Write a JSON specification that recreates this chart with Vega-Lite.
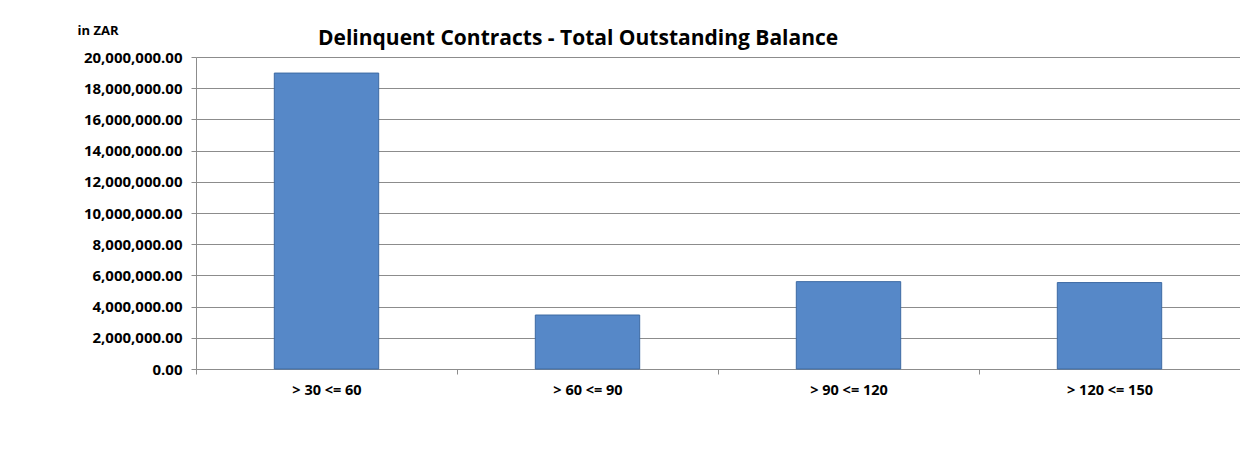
{
  "$schema": "https://vega.github.io/schema/vega-lite/v6.json",
  "autosize": "none",
  "width": 1044,
  "height": 312,
  "padding": {"left": 196, "top": 57, "right": 0, "bottom": 87},
  "background": "white",
  "title": {
    "text": "Delinquent Contracts - Total Outstanding Balance",
    "anchor": "start",
    "frame": "group",
    "dx": 122,
    "dy": 33,
    "offset": 8,
    "font": "Open Sans",
    "fontSize": 21,
    "fontWeight": "bold",
    "color": "#000000"
  },
  "data": {
    "values": [
      {"bucket": "> 30 <= 60", "balance": 18970000},
      {"bucket": "> 60 <= 90", "balance": 3460000},
      {"bucket": "> 90 <= 120", "balance": 5600000},
      {"bucket": "> 120 <= 150", "balance": 5540000}
    ]
  },
  "mark": {"type": "bar", "width": {"band": 0.4}, "color": "#5688c8", "stroke": "#3d6aa3", "strokeWidth": 1},
  "encoding": {
    "x": {
      "field": "bucket",
      "type": "nominal",
      "sort": null,
      "scale": {"paddingInner": 0, "paddingOuter": 0},
      "axis": {
        "title": null,
        "labelAngle": 0,
        "tickBand": "extent",
        "ticks": true,
        "tickSize": 5,
        "tickColor": "#8c8c8c",
        "domainColor": "#8c8c8c",
        "labelFont": "Open Sans",
        "labelFontSize": 14.5,
        "labelFontWeight": "bold",
        "labelColor": "#000000",
        "labelPadding": 9
      }
    },
    "y": {
      "field": "balance",
      "type": "quantitative",
      "scale": {"domain": [0, 20000000], "nice": false},
      "axis": {
        "values": [0, 2000000, 4000000, 6000000, 8000000, 10000000, 12000000, 14000000, 16000000, 18000000, 20000000],
        "format": ",.2f",
        "grid": true,
        "gridColor": "#8c8c8c",
        "tickColor": "#8c8c8c",
        "domainColor": "#8c8c8c",
        "tickSize": 5,
        "labelPadding": 9,
        "labelFont": "Open Sans",
        "labelFontSize": 15,
        "labelFontWeight": "bold",
        "labelColor": "#000000",
        "title": "in ZAR",
        "titleAngle": 0,
        "titleAlign": "left",
        "titleBaseline": "middle",
        "titleX": -119,
        "titleY": -27,
        "titleFont": "Open Sans",
        "titleFontSize": 13,
        "titleFontWeight": "bold",
        "titleColor": "#000000"
      }
    }
  },
  "config": {"view": {"stroke": null}}
}
